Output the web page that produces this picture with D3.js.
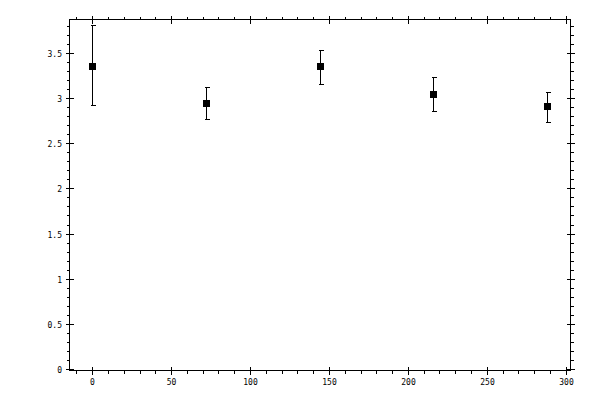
<!DOCTYPE html>
<html>
<head>
<meta charset="utf-8">
<script src="https://cdn.jsdelivr.net/npm/d3@7"></script>
<style>
  body { margin: 0; background: #fff; }
  svg { display: block; }
</style>
</head>
<body>
<div id="chart"></div>
<script>
// measured points with their error bar limits
const xValues = [0, 72, 144, 216, 288];
const yValues = [3.36, 2.95, 3.35, 3.05, 2.91];
const yLow = [2.92, 2.77, 3.16, 2.86, 2.74];
const yHigh = [3.81, 3.12, 3.53, 3.23, 3.07];

const xMajorTicks = [0, 50, 100, 150, 200, 250, 300];
const xTickLabels = ["0", "50", "100", "150", "200", "250", "300"];
const yMajorTicks = [0, 0.5, 1, 1.5, 2, 2.5, 3, 3.5];
const yTickLabels = ["0", "0.5", "1", "1.5", "2", "2.5", "3", "3.5"];

const width = 600, height = 400;
const frameLeft = 69.5, frameRight = 570.5, frameTop = 19.5, frameBottom = 370.5;

const x = d3.scaleLinear().domain([-14.4, 302.4]).range([frameLeft, frameRight - 1]);
const y = d3.scaleLinear().domain([0, 3.87]).range([frameBottom - 1.5, frameTop]);

const xMinorTicks = d3.range(-10, 301, 10).filter(v => v % 50 !== 0);
const yMinorTicks = d3.range(1, 39).map(v => v / 10).filter(v => Math.round(v * 10) % 5 !== 0);

const svg = d3.select("#chart")
  .append("svg")
  .attr("width", width)
  .attr("height", height)
  .style("font-family", "'DejaVu Sans Mono', monospace")
  .style("font-size", "8px");

const g = svg.append("g")
  .attr("stroke", "#000")
  .attr("stroke-width", 1)
  .attr("shape-rendering", "crispEdges");

// frame
g.append("rect")
  .attr("x", frameLeft).attr("y", frameTop)
  .attr("width", frameRight - frameLeft).attr("height", frameBottom - frameTop)
  .attr("fill", "none");

const px = v => Math.round(x(v)) + 0.5;
const py = v => Math.round(y(v)) + 0.5;

// x ticks, bottom and top
xMinorTicks.forEach(v => {
  g.append("line").attr("x1", px(v)).attr("x2", px(v)).attr("y1", frameBottom).attr("y2", frameBottom + 3);
  g.append("line").attr("x1", px(v)).attr("x2", px(v)).attr("y1", frameTop).attr("y2", frameTop - 3);
});
xMajorTicks.forEach(v => {
  g.append("line").attr("x1", px(v)).attr("x2", px(v)).attr("y1", frameBottom - 4).attr("y2", frameBottom + 4);
  g.append("line").attr("x1", px(v)).attr("x2", px(v)).attr("y1", frameTop - 4).attr("y2", frameTop + 4);
});

// y ticks, left and right
yMinorTicks.forEach(v => {
  g.append("line").attr("y1", py(v)).attr("y2", py(v)).attr("x1", frameLeft).attr("x2", frameLeft - 3);
  g.append("line").attr("y1", py(v)).attr("y2", py(v)).attr("x1", frameRight).attr("x2", frameRight + 3);
});
yMajorTicks.forEach(v => {
  g.append("line").attr("y1", py(v)).attr("y2", py(v)).attr("x1", frameLeft - 4).attr("x2", frameLeft + 4);
  g.append("line").attr("y1", py(v)).attr("y2", py(v)).attr("x1", frameRight - 4).attr("x2", frameRight + 4);
});

// tick labels
svg.selectAll(".xlab")
  .data(xMajorTicks)
  .enter().append("text")
  .attr("x", d => px(d))
  .attr("y", 385)
  .attr("text-anchor", "middle")
  .text((d, i) => xTickLabels[i]);

svg.selectAll(".ylab")
  .data(yMajorTicks)
  .enter().append("text")
  .attr("x", 62)
  .attr("y", d => py(d) + 3)
  .attr("text-anchor", "end")
  .text((d, i) => yTickLabels[i]);

// error bars
xValues.forEach((v, i) => {
  const cx = px(v);
  g.append("line").attr("x1", cx).attr("x2", cx).attr("y1", py(yLow[i])).attr("y2", py(yHigh[i]));
  g.append("line").attr("x1", cx - 2).attr("x2", cx + 3).attr("y1", py(yLow[i])).attr("y2", py(yLow[i]));
  g.append("line").attr("x1", cx - 2).attr("x2", cx + 3).attr("y1", py(yHigh[i])).attr("y2", py(yHigh[i]));
});

// square markers
svg.selectAll(".pt")
  .data(xValues)
  .enter().append("rect")
  .attr("x", d => Math.round(x(d)) - 3)
  .attr("y", (d, i) => Math.round(y(yValues[i])) - 3)
  .attr("width", 7)
  .attr("height", 7)
  .attr("fill", "#000")
  .attr("shape-rendering", "crispEdges");
</script>
</body>
</html>
